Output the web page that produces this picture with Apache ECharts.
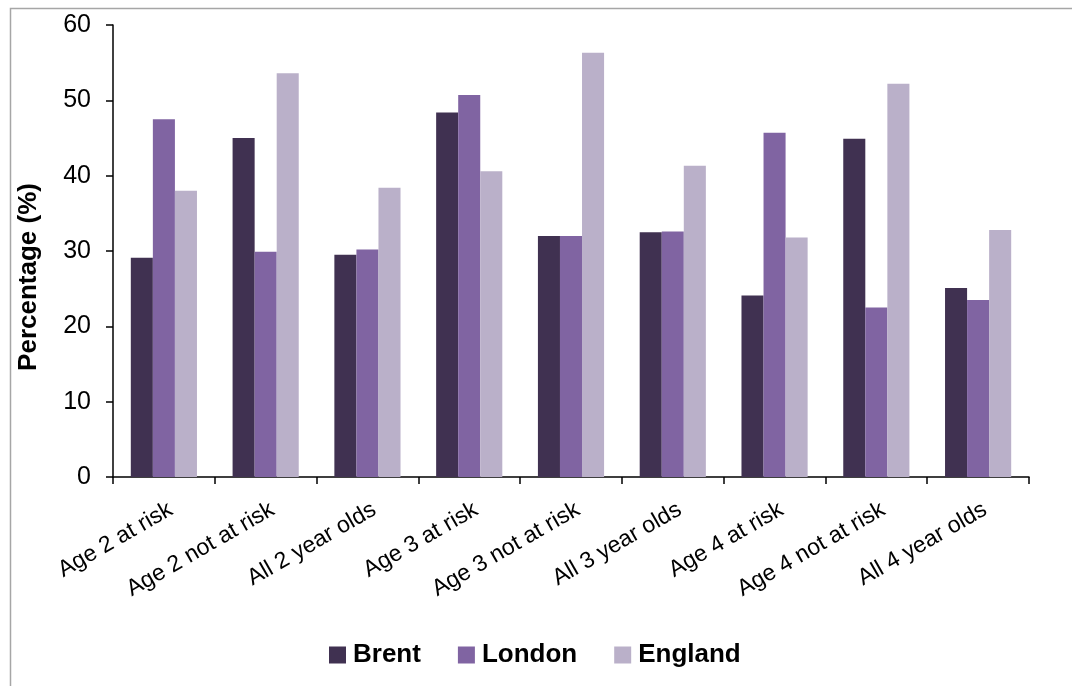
<!DOCTYPE html>
<html><head><meta charset="utf-8">
<script src="https://cdn.jsdelivr.net/npm/echarts@6/dist/echarts.min.js"></script>
<style>html,body{margin:0;padding:0;background:#fff}#c{width:1072px;height:686px}</style>
</head><body><div id="c"></div>
<script>
const categories = ['Age 2 at risk','Age 2 not at risk','All 2 year olds','Age 3 at risk','Age 3 not at risk','All 3 year olds','Age 4 at risk','Age 4 not at risk','All 4 year olds'];
const brent   = [29.1, 45.0, 29.5, 48.4, 32.0, 32.5, 24.1, 44.9, 25.1];
const london  = [47.5, 29.9, 30.2, 50.7, 32.0, 32.6, 45.7, 22.5, 23.5];
const england = [38.0, 53.6, 38.4, 40.6, 56.3, 41.3, 31.8, 52.2, 32.8];
const seriesNames = ['Brent','London','England'];
const yAxisTitle = 'Percentage (%)';
const colors = ['#403151','#8064a2','#bab0c9'];

const chart = echarts.init(document.getElementById('c'), null, {renderer:'canvas'});
const font = 'Liberation Sans, Arial, sans-serif';
chart.setOption({
  animation:false,
  color: colors,
  graphic:[
    {type:'rect', shape:{x:10.5,y:8.5,width:1100,height:720}, style:{fill:'none', stroke:'#a6a6a6', lineWidth:1.5}, silent:true},
    {type:'text', x:29, y:277, rotation:Math.PI/2, style:{text:yAxisTitle, fontFamily:font, fontSize:26, fontWeight:'bold', fill:'#000', align:'center', verticalAlign:'middle'}, silent:true}
  ],
  grid:{left:113, right:43, top:25, bottom:209},
  legend:{
    data: seriesNames, top:642, left:329, padding:0, itemWidth:17, itemHeight:17, itemGap:37,
    icon:'rect',
    textStyle:{fontFamily:font, fontSize:26, fontWeight:'bold', color:'#000', padding:[0,0,0,2]}
  },
  xAxis:{
    type:'category', data:categories,
    axisLine:{lineStyle:{color:'#000', width:1.5}},
    axisTick:{show:true, length:7, lineStyle:{color:'#000', width:1.5}},
    axisLabel:{rotate:30, interval:0, fontFamily:font, fontSize:23, color:'#000', margin:35, padding:[0,-8,0,0]}
  },
  yAxis:{
    type:'value', min:0, max:60, interval:10,
    axisLine:{show:true, lineStyle:{color:'#000', width:1.5}},
    axisTick:{show:true, length:7, lineStyle:{color:'#000', width:1.5}},
    axisLabel:{fontFamily:font, fontSize:25, color:'#000', margin:22},
    splitLine:{show:false}
  },
  series:[
    {name:seriesNames[0], type:'bar', data:brent, barGap:'0%', barCategoryGap:'35%'},
    {name:seriesNames[1], type:'bar', data:london, barGap:'0%', barCategoryGap:'35%'},
    {name:seriesNames[2], type:'bar', data:england, barGap:'0%', barCategoryGap:'35%'}
  ]
});
</script></body></html>
